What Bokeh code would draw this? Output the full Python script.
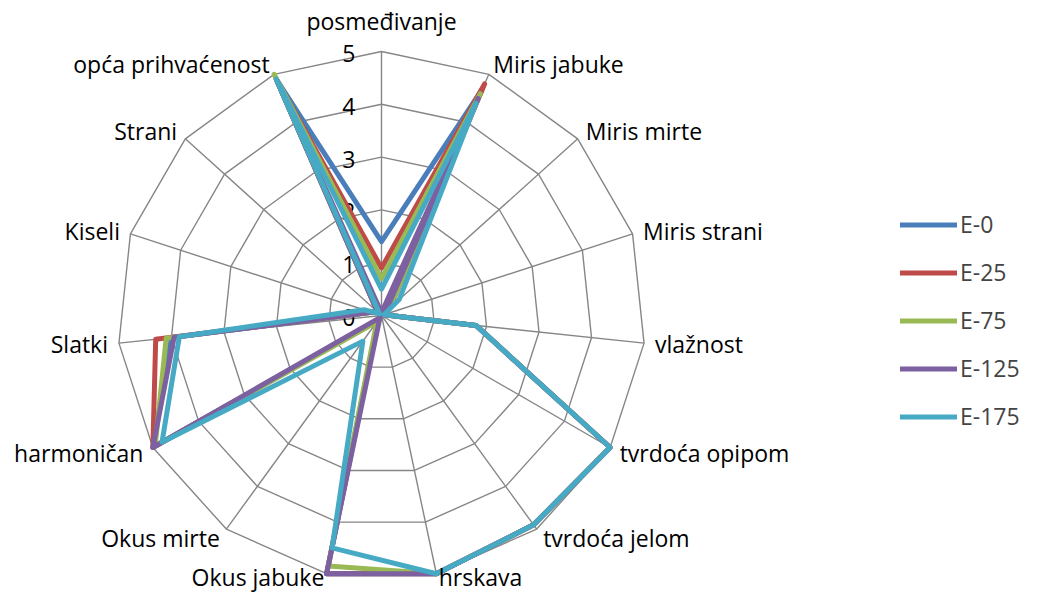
import math
from bokeh.plotting import figure
from bokeh.models import Range1d, Legend, LegendItem
from bokeh.core.properties import value
from bokeh.embed import file_html
from bokeh.resources import INLINE

categories = ["posmeđivanje", "Miris jabuke", "Miris mirte", "Miris strani", "vlažnost",
              "tvrdoća opipom", "tvrdoća jelom", "hrskava", "Okus jabuke", "Okus mirte",
              "harmoničan", "Slatki", "Kiseli", "Strani", "opća prihvaćenost"]
series_names = ["E-0", "E-25", "E-75", "E-125", "E-175"]
e0 = [1.4, 4.7, 0.2, 0.05, 1.8, 5.0, 4.9, 5.0, 5.0, 0.1, 5.0, 4.0, 0.2, 0.1, 4.9]
e25 = [0.9, 4.8, 0.2, 0.05, 1.8, 5.0, 4.9, 5.0, 5.0, 0.1, 5.0, 4.3, 0.2, 0.1, 4.9]
e75 = [0.7, 4.6, 0.2, 0.05, 1.8, 5.0, 4.9, 5.0, 4.85, 0.15, 4.95, 4.1, 0.2, 0.1, 5.0]
e125 = [0.05, 4.5, 0.1, 0.05, 1.8, 5.0, 4.9, 5.0, 5.0, 0.05, 5.0, 3.95, 0.2, 0.1, 4.85]
e175 = [0.5, 4.4, 0.45, 0.05, 1.8, 5.0, 4.9, 5.0, 4.5, 0.6, 4.8, 3.85, 0.35, 0.05, 4.9]
series_values = [e0, e25, e75, e125, e175]
colors = ["#4A7EBB", "#BE4B48", "#98B954", "#7D60A0", "#46AAC5"]
tick_values = [0, 1, 2, 3, 4, 5]

W, H = 1023, 593
CX, CY = 381, 315          # centre in figure pixels
S = 52.8                   # pixels per unit
FONT = "Open Sans"
FS = "23px"

p = figure(width=W, height=H, output_backend="svg", toolbar_location=None,
           x_range=Range1d(-CX / S, (W - CX) / S), y_range=Range1d(-(H - CY) / S, CY / S),
           min_border=0)
p.axis.visible = False
p.grid.visible = False
p.outline_line_color = None

n = len(categories)
ang = [math.pi / 2 - k * 2 * math.pi / n for k in range(n)]

def pol(r, a):
    return r * math.cos(a), r * math.sin(a)

# grid rings
grid_col = "#868686"
for t in tick_values[1:]:
    xs = [pol(t, a)[0] for a in ang] + [pol(t, ang[0])[0]]
    ys = [pol(t, a)[1] for a in ang] + [pol(t, ang[0])[1]]
    p.line(xs, ys, line_color=grid_col, line_width=1.4)
# spokes
rmax = max(tick_values)
p.segment(x0=[0] * n, y0=[0] * n, x1=[pol(rmax, a)[0] for a in ang],
          y1=[pol(rmax, a)[1] for a in ang], line_color=grid_col, line_width=1.4)

# tick labels
p.text(x=[-26 / S] * len(tick_values), y=[t - 2 / S for t in tick_values],
       text=[str(t) for t in tick_values], text_align="right", text_baseline="middle",
       text_font=value(FONT), text_font_size=FS, text_color="black")

# series
items = []
for name, vals, c in zip(series_names, series_values, colors):
    xs = [pol(v, a)[0] for v, a in zip(vals, ang)]
    ys = [pol(v, a)[1] for v, a in zip(vals, ang)]
    xs.append(xs[0]); ys.append(ys[0])
    r = p.line(xs, ys, line_color=c, line_width=5, line_join="round", line_cap="round")
    items.append(LegendItem(label=name, renderers=[r]))

# category labels
lr = 275 / S
for cat, a in zip(categories, ang):
    x, y = pol(lr, a)
    c = math.cos(a)
    s = math.sin(a)
    bl = "middle"
    if c > 0.05:
        al = "left"
    elif c < -0.05:
        al = "right"
    else:
        al = "center"
    if s > 0.99:
        bl = "bottom"
        y = (CY - 36) / S
    elif s < -0.95:
        bl = "bottom"
        y = (CY - 592) / S
    p.text(x=[x], y=[y], text=[cat], text_align=al, text_baseline=bl,
           text_font=value(FONT), text_font_size=FS, text_color="black")

legend = Legend(items=items, location=(900, 161), orientation="vertical",
                glyph_width=57, glyph_height=31, label_height=31, spacing=16,
                padding=0, margin=0, border_line_color=None, background_fill_alpha=0,
                label_text_font=FONT, label_text_font_size=FS, label_standoff=3)
p.add_layout(legend)

open("out.html", "w").write(file_html(p, INLINE))
